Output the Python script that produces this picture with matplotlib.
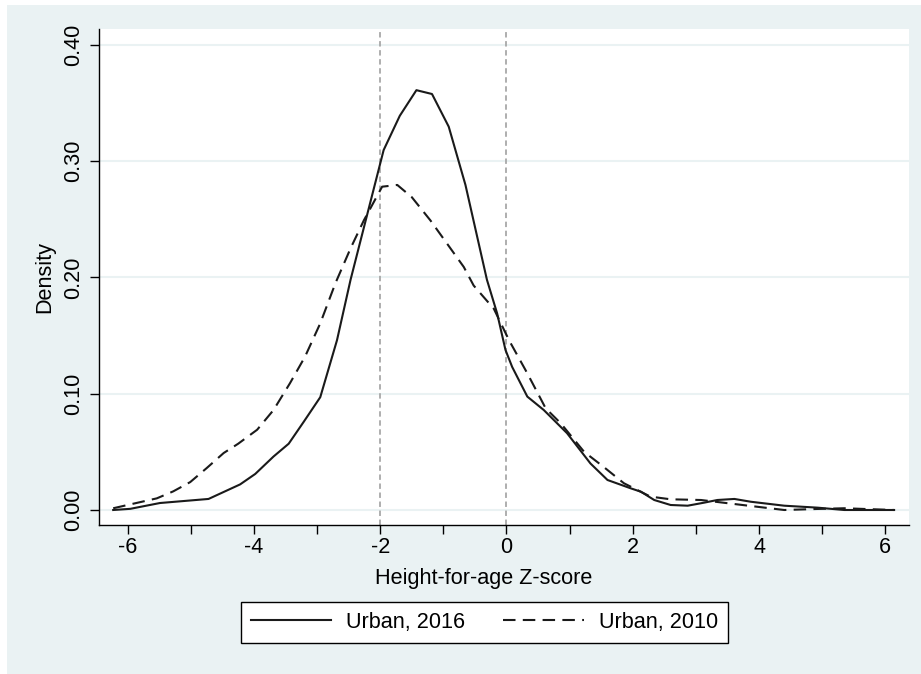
import matplotlib
matplotlib.use("Agg")
import matplotlib.pyplot as plt
from matplotlib.patches import Rectangle
from matplotlib.ticker import FormatStrFormatter, MultipleLocator

plt.rcParams['font.family'] = ['Liberation Sans', 'DejaVu Sans']
plt.rcParams['axes.unicode_minus'] = False

# kernel density of height-for-age z-score
z_2016 = [-6.23, -5.96, -5.49, -4.72, -4.22, -3.98, -3.69, -3.45, -3.21, -2.95,
          -2.685, -2.47, -1.946, -1.69, -1.427, -1.18, -0.915, -0.65, -0.31, -0.148,
          -0.016, 0.09, 0.33, 0.59, 0.96, 1.33, 1.60, 1.97, 2.13, 2.34,
          2.60, 2.87, 3.13, 3.34, 3.61, 3.87, 4.40, 4.93, 5.35, 6.14]
d_2016 = [0.000, 0.001, 0.006, 0.0095, 0.022, 0.031, 0.046, 0.057, 0.076, 0.097,
          0.146, 0.198, 0.3095, 0.339, 0.361, 0.3577, 0.3296, 0.2795, 0.198, 0.169,
          0.1376, 0.123, 0.0975, 0.086, 0.066, 0.040, 0.0258, 0.0186, 0.0157, 0.0086,
          0.0043, 0.0037, 0.0063, 0.0086, 0.0095, 0.0071, 0.0037, 0.002, 0.0, 0.0]

z_2010 = [-6.23, -5.54, -5.28, -5.01, -4.75, -4.48, -4.25, -3.95, -3.69, -3.43,
          -3.19, -2.95, -2.71, -2.47, -2.26, -1.97, -1.73, -1.50, -1.205, -0.677,
          -0.52, -0.2, 0.04, 0.33, 0.62, 0.86, 1.23, 1.54, 1.86, 2.28,
          2.6, 3.08, 3.6, 4.40, 4.93, 5.35, 6.14]
d_2010 = [0.0015, 0.010, 0.016, 0.024, 0.036, 0.049, 0.057, 0.069, 0.086, 0.109,
          0.132, 0.1605, 0.195, 0.225, 0.249, 0.278, 0.2795, 0.269, 0.249, 0.209,
          0.193, 0.173, 0.146, 0.1175, 0.0875, 0.0745, 0.050, 0.037, 0.023, 0.0115,
          0.0092, 0.0086, 0.0052, 0.0, 0.0009, 0.0015, 0.0]

ref_lines = [-2, 0]
labels = ['Urban, 2016', 'Urban, 2010']

W, H = 921, 674
fs = 15.6
fig = plt.figure(figsize=(W / 100, H / 100), dpi=100)
fig.patch.set_facecolor('white')
# stata-like graph region, kept behind the axes
bg = Rectangle((7 / W, 0), (W - 7) / W, (H - 5) / H, transform=fig.transFigure,
               facecolor='#EAF2F3', edgecolor='none', zorder=-10)
fig.add_artist(bg)

ax = fig.add_axes([99 / W, (H - 525) / H, (909 - 99) / W, (525 - 29) / H])
ax.set_zorder(1)
ax.set_facecolor('white')

ax.plot(z_2016, d_2016, color='#1a1a1a', lw=1.5, label=labels[0], zorder=3)
ax.plot(z_2010, d_2010, color='#1a1a1a', lw=1.5, dashes=(6, 3.5),
        label=labels[1], zorder=3)

for xv in ref_lines:
    ax.axvline(xv, color='#A8A8A8', lw=1.3, dashes=(3, 2), zorder=2)

ax.set_xlim(-6.455, 6.376)
ax.set_ylim(-0.0129, 0.4136)

ax.xaxis.set_major_locator(MultipleLocator(2))
ax.xaxis.set_minor_locator(MultipleLocator(1))
ax.yaxis.set_major_locator(MultipleLocator(0.1))
ax.yaxis.set_major_formatter(FormatStrFormatter('%.2f'))
ax.grid(axis='y', color='#EAF2F3', lw=1.5, zorder=1)
ax.set_axisbelow(True)

for s in ['top', 'right']:
    ax.spines[s].set_visible(False)
for s in ['left', 'bottom']:
    ax.spines[s].set_color('black')
    ax.spines[s].set_linewidth(1.0)

ax.tick_params(axis='x', which='both', length=6.5, width=1, pad=2, labelsize=fs)
ax.tick_params(axis='y', length=6.5, width=1, pad=4, labelsize=fs)
for t in ax.get_yticklabels():
    t.set_rotation(90)
    t.set_va('center')

ax.set_xlabel('Height-for-age Z-score', fontsize=fs)
ax.xaxis.set_label_coords((484 - 99) / 810, -0.086)
ax.set_ylabel('Density', fontsize=fs, labelpad=6)

fig.legend(loc='center', bbox_to_anchor=(484.5 / W, (H - 622.5) / H), ncol=2,
           fontsize=fs, frameon=True, fancybox=False, edgecolor='black',
           facecolor='white', framealpha=1, handlelength=3.7,
           handletextpad=0.7, columnspacing=1.75, borderpad=0.45)

fig.savefig('out.png', dpi=100)
